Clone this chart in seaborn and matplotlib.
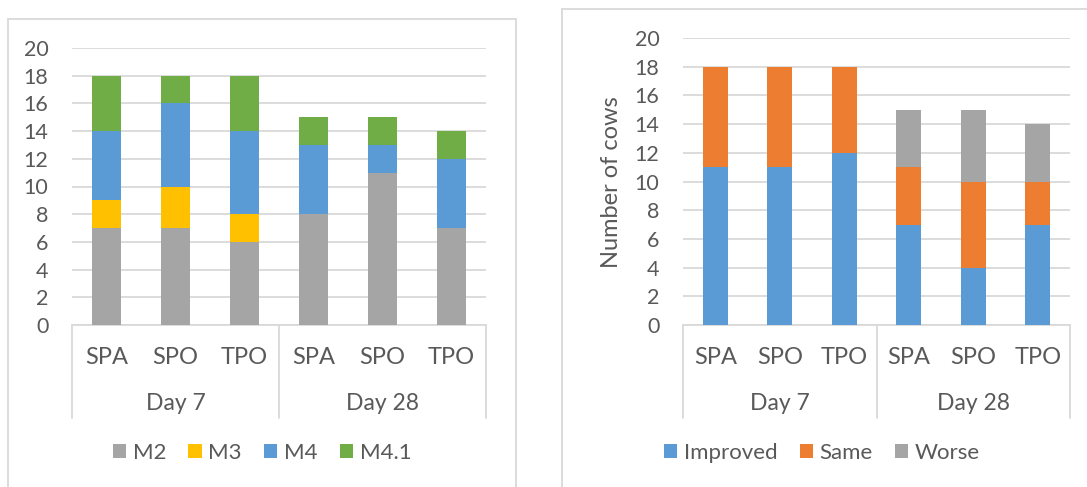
import matplotlib
matplotlib.use("Agg")
import matplotlib.pyplot as plt
import seaborn as sns
import pandas as pd
from matplotlib.patches import Patch, Rectangle
from matplotlib.lines import Line2D

# data
groups = ["Day 7", "Day 28"]
methods = ["SPA", "SPO", "TPO"]

m2 = [7, 7, 6, 8, 11, 7]
m3 = [2, 3, 2, 0, 0, 0]
m4 = [5, 6, 6, 5, 2, 5]
m41 = [4, 2, 4, 2, 2, 2]

improved = [11, 11, 12, 7, 4, 7]
same = [7, 7, 6, 4, 6, 3]
worse = [0, 0, 0, 4, 5, 4]

yticks = list(range(0, 21, 2))

GRAY = "#a5a5a5"
YELLOW = "#ffc000"
BLUE = "#5b9bd5"
GREEN = "#70ad47"
ORANGE = "#ed7d31"
LINE = "#d9d9d9"
TEXT = "#595959"

sns.set_theme(style="white")
plt.rcParams["font.family"] = ["Lato", "DejaVu Sans"]

W, H = 1087, 487
fig = plt.figure(figsize=(W / 100, H / 100), dpi=100)


def fx(x):
    return x / W


def fy(y):
    return 1 - y / H


def stacked_panel(left, right, top, bottom, series, names, colors, width, legend_cx):
    ax = fig.add_axes([fx(left), fy(bottom), fx(right - left), (bottom - top) / H])
    keys = [f"{g} {m}" for g in groups for m in methods]
    df = pd.DataFrame({"key": keys})
    cum = [0] * len(keys)
    cums = []
    for s in series:
        cum = [a + b for a, b in zip(cum, s)]
        cums.append(list(cum))
    # draw from the top of the stack down so lower segments cover the upper
    for c, col in reversed(list(zip(cums, colors))):
        df["val"] = c
        sns.barplot(data=df, x="key", y="val", order=keys, color=col,
                    saturation=1, width=width, errorbar=None, ax=ax,
                    linewidth=0, zorder=3)
    ax.set_xlim(-0.5, len(keys) - 0.5)
    ax.set_ylim(0, 20)
    ax.set_yticks(yticks)
    ax.set_yticklabels([str(t) for t in yticks])
    ax.tick_params(axis="y", length=0, pad=17, labelsize=15.5, labelcolor=TEXT)
    ax.set_xticks([])
    ax.set_xlabel("")
    ax.set_ylabel("")
    ax.yaxis.grid(True, color=LINE, linewidth=1.3, zorder=0)
    ax.set_axisbelow(True)
    for sp in ["top", "right", "left"]:
        ax.spines[sp].set_visible(False)
    ax.spines["bottom"].set_color(LINE)
    ax.spines["bottom"].set_linewidth(1.3)

    h = bottom - top
    trans = ax.get_xaxis_transform()
    for i in range(len(keys)):
        ax.text(i, -(357 - bottom) / h, methods[i % 3], transform=trans,
                ha="center", va="center", fontsize=17, color=TEXT)
    for gi, g in enumerate(groups):
        ax.text(gi * 3 + 1, -(403 - bottom) / h, g, transform=trans,
                ha="center", va="center", fontsize=16.5, color=TEXT)
    for xs in [-0.5, 2.5, 5.5]:
        ax.add_line(Line2D([xs, xs], [0, -(418 - bottom) / h], transform=trans,
                           color=LINE, linewidth=1.3, clip_on=False))

    handles = [Patch(facecolor=c, edgecolor="none") for c in colors]
    fig.legend(handles, names, loc="center", bbox_to_anchor=(fx(legend_cx), fy(453)),
               ncol=len(names), frameon=False, fontsize=16, handlelength=0.6,
               handleheight=0.6, handletextpad=0.3, columnspacing=1.0,
               labelcolor=TEXT)
    return ax


stacked_panel(72, 486, 48, 325, [m2, m3, m4, m41], ["M2", "M3", "M4", "M4.1"],
              [GRAY, YELLOW, BLUE, GREEN], 0.42, 262)
stacked_panel(683, 1070, 38, 325, [improved, same, worse], ["Improved", "Same", "Worse"],
              [BLUE, ORANGE, GRAY], 0.39, 822)

fig.text(fx(612), fy(182), "Number of cows", rotation=90, ha="center", va="center",
         fontsize=17, color=TEXT)

# chart area borders
fig.patches.append(Rectangle((fx(8), fy(500)), fx(516 - 8), (500 - 19) / H, fill=False,
                             edgecolor=LINE, linewidth=1.3, transform=fig.transFigure))
fig.patches.append(Rectangle((fx(562), fy(500)), fx(1100 - 562), (500 - 9) / H, fill=False,
                             edgecolor=LINE, linewidth=1.3, transform=fig.transFigure))

fig.savefig("out.png", dpi=100, facecolor="white")
